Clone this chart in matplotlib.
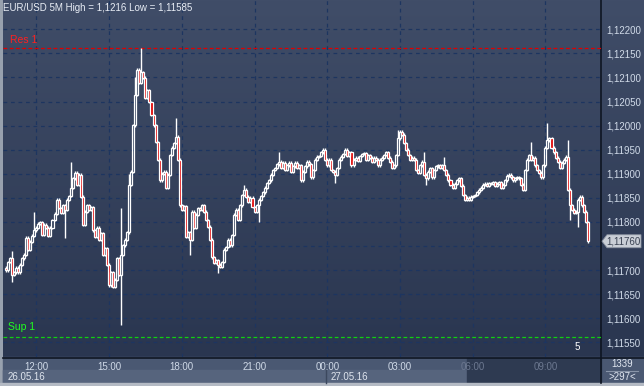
import matplotlib
matplotlib.use("Agg")
import matplotlib.pyplot as plt
import numpy as np
from matplotlib.patches import Polygon, Rectangle
from matplotlib.transforms import blended_transform_factory

plt.rcParams["font.family"] = ["Liberation Sans", "DejaVu Sans"]

# 5-minute EUR/USD closes, in units of 1e-5 (111760 -> 1.11760), from 26.05.16 10:45
closes = [
    111700, 111717, 111725, 111690, 111696, 111705, 111696, 111711, 111725, 111732,
    111767, 111742, 111759, 111771, 111783, 111788, 111796, 111800, 111773, 111794,
    111788, 111771, 111788, 111804, 111817, 111846, 111829, 111819, 111835, 111825,
    111846, 111854, 111871, 111891, 111902, 111877, 111898, 111852, 111794, 111821,
    111835, 111825, 111831, 111783, 111769, 111788, 111763, 111777, 111732, 111746,
    111711, 111669, 111696, 111665, 111680, 111725, 111690, 111732, 111752, 111763,
    111779, 111877, 111904, 112001, 112064, 112116, 112089, 112111, 112099, 112058,
    112074, 112049, 112022, 112001, 111966, 111929, 111887, 111900, 111904, 111871,
    111898, 111939, 111954, 111964, 111977, 111929, 111835, 111825, 111833, 111769,
    111779, 111763, 111821, 111788, 111815, 111829, 111825, 111835, 111821, 111804,
    111790, 111763, 111727, 111715, 111721, 111711, 111707, 111717, 111742, 111748,
    111763, 111752, 111773, 111815, 111825, 111804, 111835, 111856, 111867, 111852,
    111842, 111850, 111831, 111821, 111835, 111846, 111854, 111862, 111871, 111881,
    111887, 111898, 111908, 111912, 111920, 111925, 111912, 111923, 111908, 111918,
    111923, 111904, 111916, 111923, 111912, 111918, 111887, 111904, 111916, 111925,
    111920, 111893, 111908, 111929, 111935, 111937, 111945, 111950, 111929, 111918,
    111929, 111908, 111904, 111898, 111912, 111929, 111935, 111941, 111950, 111937,
    111945, 111918, 111929, 111933, 111927, 111937, 111941, 111943, 111929, 111939,
    111933, 111925, 111933, 111929, 111918, 111929, 111933, 111939, 111945, 111933,
    111925, 111912, 111918, 111939, 111974, 111987, 111981, 111964, 111950, 111939,
    111929, 111933, 111929, 111908, 111902, 111918, 111925, 111898, 111891, 111904,
    111912, 111893, 111908, 111916, 111918, 111912, 111918, 111908, 111898, 111887,
    111877, 111871, 111879, 111887, 111891, 111875, 111856, 111846, 111850, 111846,
    111852, 111854, 111856, 111862, 111867, 111871, 111877, 111879, 111875, 111881,
    111879, 111883, 111875, 111879, 111883, 111871, 111877, 111887, 111896, 111898,
    111893, 111887, 111891, 111893, 111891, 111877, 111867, 111908, 111929, 111939,
    111929, 111933, 111918, 111908, 111902, 111893, 111918, 111954, 111970, 111974,
    111954, 111945, 111933, 111925, 111912, 111923, 111929, 111935, 111867, 111835,
    111825, 111819, 111821, 111846, 111852, 111835, 111821, 111800, 111760,
]
first_open = 111705
wick = 3
# bars whose high / low reach further than the usual short wick
high_spikes = {3: 111740, 14: 111821, 32: 111925, 57: 111829, 61: 111900, 64: 112100,
               67: 112161, 69: 112100, 84: 112016, 118: 111877, 135: 111945,
               194: 111991, 207: 111945, 217: 111935, 260: 111966, 268: 112006,
               278: 111970}
low_spikes = {3: 111676, 29: 111767, 57: 111586, 91: 111732, 105: 111694,
              125: 111800, 163: 111881, 208: 111877, 279: 111805, 283: 111790}

res_level = 1.12161
sup_level = 1.11562
title = "EUR/USD 5M High = 1,1216 Low = 1,11585"
time_ticks = [15, 51, 87, 123, 159, 195, 231, 267]
time_labels = ["12:00", "15:00", "18:00", "21:00", "00:00", "03:00", "06:00", "09:00"]
date_labels = ["26.05.16", "27.05.16"]
price_ticks = [1.1155, 1.1160, 1.1165, 1.1170, 1.1175, 1.1180, 1.1185,
               1.1190, 1.1195, 1.1200, 1.1205, 1.1210, 1.1215, 1.1220]

W, H = 644, 386
fig = plt.figure(figsize=(W / 100, H / 100), dpi=100)
fig.patch.set_facecolor("#98a1ae")


def pixel_axes(zorder):
    a = fig.add_axes([0, 0, 1, 1], zorder=zorder)
    a.set_xlim(0, W)
    a.set_ylim(H, 0)
    a.axis("off")
    a.patch.set_alpha(0)
    return a


deco = pixel_axes(0)

# gradient panel behind chart and price scale
grad = np.linspace(0, 1, 256)[:, None]
top_c = np.array([64, 77, 104]) / 255
bot_c = np.array([42, 54, 80]) / 255
img = top_c[None, None, :] * (1 - grad[..., None]) + bot_c[None, None, :] * grad[..., None]
deco.imshow(img, extent=[3, W, 357, 0], aspect="auto", zorder=0)

# bottom time / date rows
deco.add_patch(Rectangle((3, 357), W - 3, 26, color="#4a5872", zorder=1))
deco.add_patch(Rectangle((3, 370), 464, 13, color="#56647d", zorder=1))
deco.add_patch(Rectangle((467, 358), 134, 25, color="#2e3a51", zorder=1))
deco.add_patch(Rectangle((0, 383), W, 3, color="#b4bac4", zorder=1))
deco.plot([326, 326], [370, 383], color="#3c485e", lw=1, zorder=2)
deco.plot([3, W], [357.5, 357.5], color="#0e1522", lw=1.2, zorder=3)
deco.plot([601.5, 601.5], [0, 383], color="#0e1522", lw=1.2, zorder=3)
deco.plot([606, 638], [370.5, 370.5], color="#8894a8", lw=0.8, zorder=3)

# price chart
ax = fig.add_axes([3 / W, (H - 357) / H, 598 / W, 357 / H], zorder=1)
ax.set_facecolor("none")
for s in ax.spines.values():
    s.set_visible(False)

c = np.array(closes) / 1e5
o = np.concatenate([[first_open], closes[:-1]]) / 1e5
top = np.maximum(o, c)
bot = np.minimum(o, c)
hi = top + wick / 1e5
lo = bot - wick / 1e5
for i, v in high_spikes.items():
    hi[i] = max(hi[i], v / 1e5)
for i, v in low_spikes.items():
    lo[i] = min(lo[i], v / 1e5)
x = np.arange(len(c))

ax.vlines(x, top, hi, color="white", lw=1.0, zorder=3)
ax.vlines(x, lo, bot, color="white", lw=1.0, zorder=3)
bear = c < o
ax.bar(x[bear], (top - bot)[bear], bottom=bot[bear], width=1.0,
       color="#e00000", edgecolor="white", linewidth=0.9, zorder=4)
ax.bar(x[~bear], np.maximum(top - bot, 1e-6)[~bear], bottom=bot[~bear], width=1.0,
       facecolor="none", edgecolor="white", linewidth=0.9, zorder=4)

ax.axhline(res_level, color="#e00000", lw=0.9, ls=(0, (3, 2)), zorder=2)
ax.axhline(sup_level, color="#10d010", lw=0.9, ls=(0, (3, 2)), zorder=2)
bl = blended_transform_factory(ax.transAxes, ax.transData)
ax.annotate("Res 1", xy=(0.012, res_level), xycoords=bl, xytext=(0, 2),
            textcoords="offset points", color="#ff2020", fontsize=7.5, va="bottom")
ax.annotate("Sup 1", xy=(0.008, sup_level), xycoords=bl, xytext=(0, 3),
            textcoords="offset points", color="#20ff20", fontsize=7.5, va="bottom")

ax.set_xlim(-1.5, 294.5)
ax.set_ylim(1.115197, 1.122608)
ax.set_xticks(time_ticks)
ax.set_xticklabels(time_labels)
ax.set_yticks(price_ticks)
ax.set_yticklabels([f"{p:.5f}".replace(".", ",") for p in price_ticks])
ax.yaxis.tick_right()
ax.tick_params(axis="both", length=0, labelsize=7, colors="#d0dae8")
ax.tick_params(axis="x", pad=3.5)
ax.tick_params(axis="y", pad=4)
for lbl in ax.get_xticklabels()[-2:]:
    lbl.set_color("#6c7890")
ax.grid(True, color="#1d3560", lw=0.9, ls=(0, (3, 3)), zorder=1)

# the last price tag covers the scale label next to it
last = closes[-1] / 1e5
for p, lbl in zip(price_ticks, ax.get_yticklabels()):
    if abs(p - last) < 0.00015:
        lbl.set_visible(False)

# texts and last price tag drawn over the chart
over = pixel_axes(2)
over.text(3, 8, title, color="#e8edf5", fontsize=7, va="center")
over.text(575, 352, "5", color="#ffffff", fontsize=7, va="bottom")
over.text(622, 364, "1339", color="#e0e6f0", fontsize=7, ha="center", va="center")
over.text(622, 377, ">297<", color="#e0e6f0", fontsize=7, ha="center", va="center")
over.text(8, 377, date_labels[0], color="#dfe5ee", fontsize=7, va="center")
over.text(331, 377, date_labels[1], color="#dfe5ee", fontsize=7, va="center")
_, ty = over.transData.inverted().transform(ax.transData.transform((0, last)))
over.add_patch(Polygon([[602, ty], [607, ty - 6.5], [641, ty - 6.5], [641, ty + 6.5], [607, ty + 6.5]],
                       closed=True, facecolor="#c9ced6", edgecolor="#8a92a0", lw=0.6))
over.text(623, ty, f"{last:.5f}".replace(".", ","), color="#3a4252", fontsize=7,
          ha="center", va="center")

fig.savefig("out.png", dpi=100)
